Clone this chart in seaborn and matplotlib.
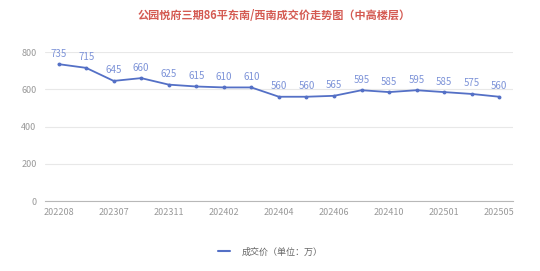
import matplotlib
matplotlib.use("Agg")
import matplotlib.pyplot as plt
import seaborn as sns
import pandas as pd
from matplotlib.lines import Line2D

months = ["202208", "202304", "202307", "202309", "202311", "202401", "202402", "202403",
          "202404", "202405", "202406", "202408", "202410", "202412", "202501", "202503", "202505"]
prices = [735, 715, 645, 660, 625, 615, 610, 610, 560, 560, 565, 595, 585, 595, 585, 575, 560]
yticks = [0, 200, 400, 600, 800]
title = "公园悦府三期86平东南/西南成交价走势图（中高楼层）"
series_name = "成交价（单位：万）"

sns.set_theme(style="white")
plt.rcParams["font.family"] = ["Noto Sans CJK SC", "DejaVu Sans"]

df = pd.DataFrame({"idx": range(len(months)), "month": months, "price": prices})

fig = plt.figure(figsize=(5.4, 2.71), dpi=100)
ax = fig.add_axes([0.083, 0.258, 0.867, 0.55])
line_color = "#5470c6"
sns.lineplot(data=df, x="idx", y="price", ax=ax, color=line_color, linewidth=1.3,
             marker="o", markersize=2.8, markeredgewidth=0, label=series_name, legend=False)

for i, v in zip(df["idx"], df["price"]):
    ax.annotate(str(v), (i, v), xytext=(0, 4), textcoords="offset points",
                ha="center", va="bottom", fontsize=7, color="#7d93d8")

ax.set_xlim(-0.5, len(months) - 0.5)
ax.set_ylim(0, 800)
ax.set_yticks(yticks)
ax.set_yticklabels([str(t) for t in yticks])
shown = list(range(0, len(months), 2))
ax.set_xticks(shown)
ax.set_xticklabels([months[i] for i in shown])
ax.tick_params(axis="both", labelsize=6.5, colors="#999999")
ax.tick_params(axis="x", length=3, color="#b8b8b8", pad=2)
ax.tick_params(axis="y", length=0, pad=6)
ax.yaxis.grid(True, color="#e8e8e8", linewidth=0.8)
ax.set_axisbelow(True)
for s in ["top", "right", "left"]:
    ax.spines[s].set_visible(False)
ax.spines["bottom"].set_color("#b8b8b8")
ax.spines["bottom"].set_linewidth(0.8)
ax.set_xlabel("")
ax.set_ylabel("")

fig.text(0.507, 0.942, title, ha="center", va="center", fontsize=8, fontweight="bold",
         color="#d45a52")

h = [Line2D([0], [0], color=line_color, linewidth=1.5)]
fig.legend(h, [series_name], loc="center", bbox_to_anchor=(0.5, 0.07), frameon=False,
           fontsize=6.5, labelcolor="#666666", handlelength=1.4, handletextpad=1.2)

fig.savefig("out.png", dpi=100)
